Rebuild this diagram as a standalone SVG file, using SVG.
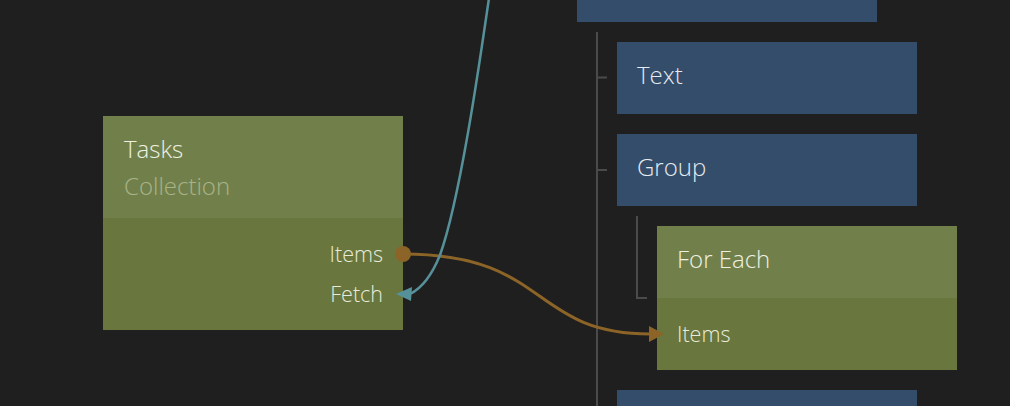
<svg xmlns="http://www.w3.org/2000/svg" width="1010" height="406" viewBox="0 0 1010 406">
<style>
.bg{fill:#1f1f1f}
.vis{fill:#334d6b}
.hd{fill:#71804b}
.bd{fill:#69773f}
text{font-family:"Open Sans","Noto Sans","Liberation Sans",sans-serif;font-weight:300}
.title{font-size:24px;fill:#eef0e2}
.vtitle{font-size:24px;fill:#e6ebf0}
.sub{font-size:24px;fill:#a9b388}
.port{font-size:21.5px;fill:#e8ebda}
.tree{stroke:#4b4b4b;stroke-width:2;fill:none}
</style>
<rect class="bg" x="0" y="0" width="1010" height="406"/>
<g id="tree-lines">
<path class="tree" d="M597,32 V406 M597,77.5 H607 M597,170 H607"/>
<path class="tree" d="M637,216 V298 H647"/>
</g>
<g id="node-top">
<rect class="vis" x="577" y="-10" width="300" height="32"/>
</g>
<g id="node-text">
<rect class="vis" x="617" y="42" width="300" height="72"/>
<text class="vtitle" x="637" y="84">Text</text>
</g>
<g id="node-group">
<rect class="vis" x="617" y="134" width="300" height="72"/>
<text class="vtitle" x="637" y="176">Group</text>
</g>
<g id="node-bottom">
<rect class="vis" x="617" y="390" width="300" height="30"/>
</g>
<g id="node-tasks">
<rect class="hd" x="103" y="116" width="300" height="102"/>
<rect class="bd" x="103" y="218" width="300" height="112"/>
<text class="title" x="124" y="158">Tasks</text>
<text class="sub" x="124" y="195">Collection</text>
<text class="port" x="383" y="262" text-anchor="end">Items</text>
<text class="port" x="383" y="302" text-anchor="end">Fetch</text>
</g>
<g id="node-foreach">
<rect class="hd" x="657" y="226" width="300" height="72"/>
<rect class="bd" x="657" y="298" width="300" height="72"/>
<text class="title" x="677" y="268">For Each</text>
<text class="port" x="677" y="342">Items</text>
</g>
<g id="connectors">
<path d="M403,254 C550,254 530,334 650,334" fill="none" stroke="#8c6427" stroke-width="3"/>
<circle cx="403" cy="254" r="8" fill="#8c6427"/>
<polygon points="664,334 649,326 649,342" fill="#8c6427"/>
<path d="M489,-2 C480,60 460,200 440,255 C432,275 422,288 410,294" fill="none" stroke="#56919a" stroke-width="2.5"/>
<polygon points="396,294 412,287 411,301" fill="#56919a"/>
</g>
</svg>
